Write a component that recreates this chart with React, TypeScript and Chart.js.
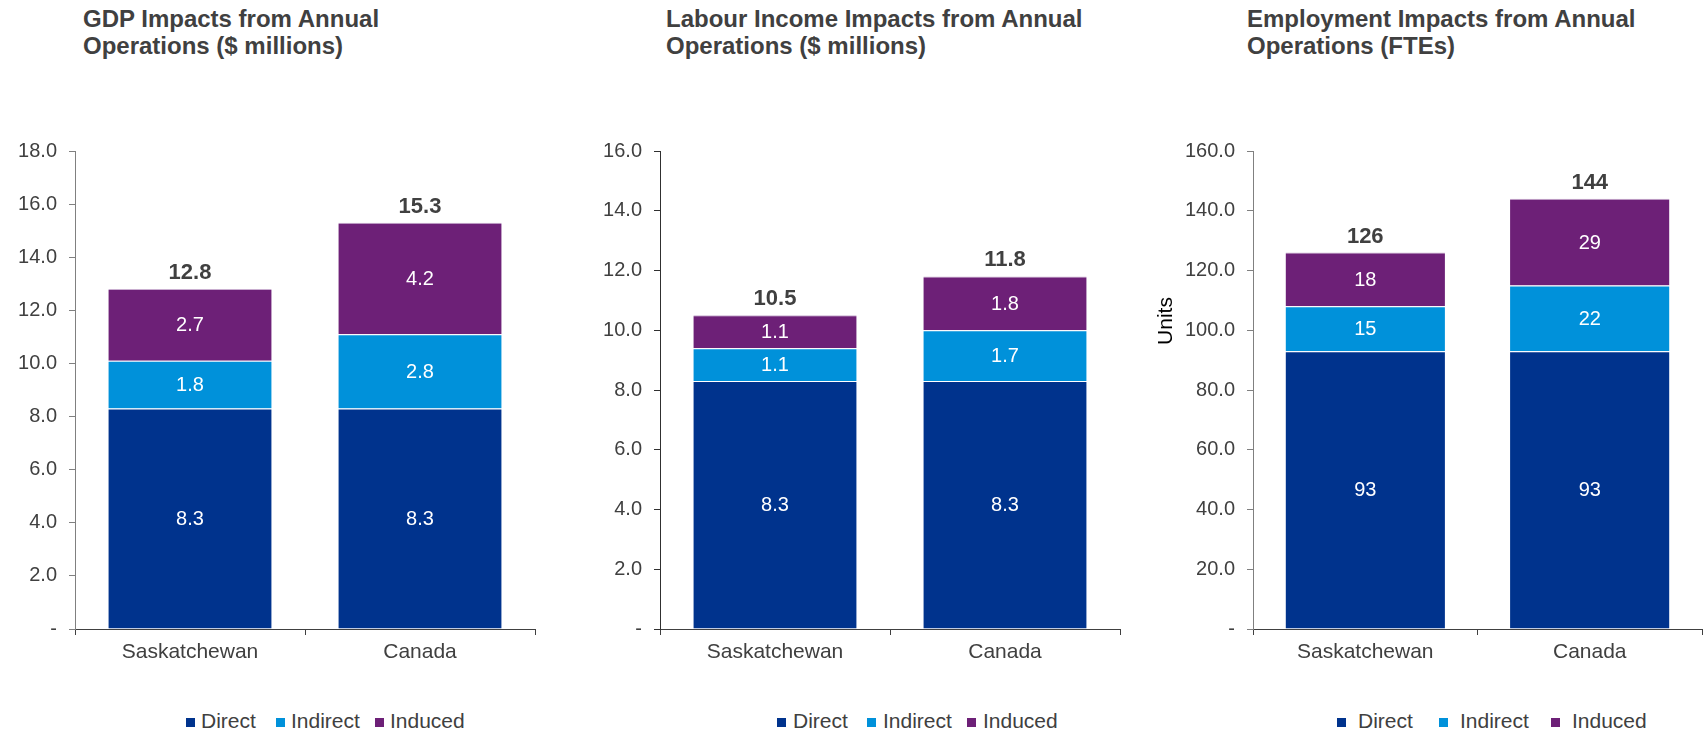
import React, { useEffect, useRef } from 'react';
import { Chart, registerables } from 'chart.js';

Chart.register(...registerables);

const FONT = '"Liberation Sans", Arial, Helvetica, sans-serif';
Chart.defaults.font.family = FONT;

// ---------- data ----------
const categories = ['Saskatchewan', 'Canada'];
const seriesNames = ['Direct', 'Indirect', 'Induced'];
const seriesColors = ['#00338D', '#0091DA', '#6D2077'];

const gdpDirect = [8.3, 8.3];
const gdpIndirect = [1.8, 2.8];
const gdpInduced = [2.7, 4.2];
const gdpTotals = [12.8, 15.3];

const labourDirect = [8.3, 8.3];
const labourIndirect = [1.1, 1.7];
const labourInduced = [1.1, 1.8];
const labourTotals = [10.5, 11.8];

const empDirect = [93, 93];
const empIndirect = [15, 22];
const empInduced = [18, 29];
const empTotals = [126, 144];

const gdpTitle = ['GDP Impacts from Annual', 'Operations ($ millions)'];
const labourTitle = ['Labour Income Impacts from Annual', 'Operations ($ millions)'];
const empTitle = ['Employment Impacts from Annual', 'Operations (FTEs)'];

const gdpAxisMax = 18;
const gdpAxisStep = 2;
const labourAxisMax = 16;
const labourAxisStep = 2;
const empAxisMax = 160;
const empAxisStep = 20;
const empAxisTitle = 'Units';

// ---------- layout ----------
const CANVAS_TOP = 100;
const CANVAS_H = 600;
const PLOT_TOP = 151;
const PLOT_BOTTOM = 629;

type PanelCfg = {
  left: number;
  width: number;
  axisX: number;
  plotRight: number;
  title: string[];
  titleX: number;
  series: number[][];
  totals: number[];
  max: number;
  step: number;
  decimals: number;
  axisColor: string;
  legendBoxes: number[];
  legendGap: number;
};

const panels: PanelCfg[] = [
  {
    left: 0, width: 560, axisX: 75, plotRight: 535,
    title: gdpTitle, titleX: 83,
    series: [gdpDirect, gdpIndirect, gdpInduced], totals: gdpTotals,
    max: gdpAxisMax, step: gdpAxisStep, decimals: 1, axisColor: '#808080',
    legendBoxes: [186, 276, 375], legendGap: 15,
  },
  {
    left: 580, width: 560, axisX: 660, plotRight: 1120,
    title: labourTitle, titleX: 666,
    series: [labourDirect, labourIndirect, labourInduced], totals: labourTotals,
    max: labourAxisMax, step: labourAxisStep, decimals: 1, axisColor: '#303030',
    legendBoxes: [777, 867, 967], legendGap: 16,
  },
  {
    left: 1140, width: 563, axisX: 1253, plotRight: 1702,
    title: empTitle, titleX: 1247,
    series: [empDirect, empIndirect, empInduced], totals: empTotals,
    max: empAxisMax, step: empAxisStep, decimals: 0, axisColor: '#808080',
    legendBoxes: [1337, 1439, 1551], legendGap: 21,
  },
];

const segLabels = {
  id: 'segLabels',
  afterDatasetsDraw(chart: any, _args: any, opts: any) {
    const ctx = chart.ctx;
    const decimals: number = opts.decimals;
    const totals: number[] = opts.totals;
    ctx.save();
    ctx.font = `20px ${FONT}`;
    ctx.fillStyle = '#ffffff';
    ctx.textAlign = 'center';
    ctx.textBaseline = 'middle';
    chart.data.datasets.forEach((ds: any, di: number) => {
      const meta = chart.getDatasetMeta(di);
      meta.data.forEach((bar: any, i: number) => {
        const p = bar.getProps(['x', 'y', 'base'], true);
        const v = ds.data[i] as number;
        ctx.fillText(v.toFixed(decimals), p.x, (p.y + p.base) / 2 + 1);
      });
    });
    ctx.font = `bold 22px ${FONT}`;
    ctx.fillStyle = '#404040';
    ctx.textBaseline = 'alphabetic';
    const yScale = chart.scales.y;
    const meta0 = chart.getDatasetMeta(0);
    totals.forEach((t, i) => {
      const x = meta0.data[i].x;
      ctx.fillText(t.toFixed(decimals), x, yScale.getPixelForValue(t) - 10);
    });
    ctx.restore();
  },
};

function ChartPanel({ cfg }: { cfg: PanelCfg }) {
  const ref = useRef<HTMLCanvasElement>(null);
  useEffect(() => {
    const yWidth = cfg.axisX - cfg.left;
    const padRight = cfg.left + cfg.width - cfg.plotRight;
    const chart = new Chart(ref.current as HTMLCanvasElement, {
      type: 'bar',
      data: {
        labels: categories,
        datasets: cfg.series.map((d, i) => ({
          label: seriesNames[i],
          data: d,
          backgroundColor: seriesColors[i],
          borderColor: i === 2 ? '#c9aed0' : '#ffffff',
          borderWidth: { top: 1, bottom: 0, left: 0, right: 0 },
          borderSkipped: false,
          categoryPercentage: 1,
          barPercentage: 0.71,
        })),
      },
      options: {
        animation: false,
        responsive: false,
        maintainAspectRatio: false,
        layout: { padding: { top: PLOT_TOP - CANVAS_TOP, right: padRight, left: 0, bottom: 0 } },
        plugins: {
          legend: { display: false },
          tooltip: { enabled: false },
          title: { display: false },
          segLabels: { decimals: cfg.decimals, totals: cfg.totals },
        } as any,
        scales: {
          x: {
            stacked: true,
            offset: true,
            grid: {
              display: true,
              drawOnChartArea: false,
              drawTicks: true,
              tickLength: 6,
              color: '#404040',
              offset: true,
            },
            border: { display: true, color: '#404040', width: 1 },
            ticks: { color: '#404040', font: { size: 21, family: FONT }, padding: 5, maxRotation: 0 },
            afterFit: (s: any) => { s.height = CANVAS_TOP + CANVAS_H - PLOT_BOTTOM; },
          },
          y: {
            stacked: true,
            min: 0,
            max: cfg.max,
            grid: {
              display: true,
              drawOnChartArea: false,
              drawTicks: true,
              tickLength: 6,
              color: cfg.axisColor,
            },
            border: { display: true, color: cfg.axisColor, width: 1 },
            ticks: {
              stepSize: cfg.step,
              color: '#404040',
              font: { size: 20, family: FONT },
              padding: 12,
              callback: (v: any) => (Number(v) === 0 ? '-' : Number(v).toFixed(1)),
            },
            afterFit: (s: any) => { s.width = yWidth; },
          },
        },
      },
      plugins: [segLabels],
    });
    return () => chart.destroy();
  }, [cfg]);
  return (
    <canvas
      ref={ref}
      width={cfg.width}
      height={CANVAS_H}
      style={{ position: 'absolute', left: cfg.left, top: CANVAS_TOP, width: cfg.width, height: CANVAS_H }}
    />
  );
}

export default function App() {
  return (
    <div
      style={{
        position: 'absolute',
        left: 0,
        top: 0,
        width: 1703,
        height: 732,
        overflow: 'hidden',
        background: '#ffffff',
        fontFamily: FONT,
      }}
    >
      {panels.map((p, pi) => (
        <React.Fragment key={pi}>
          <div
            style={{
              position: 'absolute',
              left: p.titleX,
              top: 5,
              fontSize: 24,
              lineHeight: '27px',
              fontWeight: 'bold',
              color: '#404040',
              whiteSpace: 'nowrap',
            }}
          >
            {p.title.map((t, i) => (
              <div key={i}>{t}</div>
            ))}
          </div>
          <ChartPanel cfg={p} />
          {seriesNames.map((n, i) => (
            <React.Fragment key={n}>
              <div
                style={{
                  position: 'absolute',
                  left: p.legendBoxes[i],
                  top: 718,
                  width: 9,
                  height: 9,
                  background: seriesColors[i],
                }}
              />
              <div
                style={{
                  position: 'absolute',
                  left: p.legendBoxes[i] + p.legendGap,
                  top: 710,
                  fontSize: 21,
                  lineHeight: '21px',
                  color: '#404040',
                  whiteSpace: 'nowrap',
                }}
              >
                {n}
              </div>
            </React.Fragment>
          ))}
        </React.Fragment>
      ))}
      <div
        style={{
          position: 'absolute',
          left: 1164.5 - 50,
          top: 321 - 12,
          width: 100,
          height: 24,
          lineHeight: '24px',
          fontSize: 21,
          textAlign: 'center',
          color: '#000000',
          transform: 'rotate(-90deg)',
        }}
      >
        {empAxisTitle}
      </div>
    </div>
  );
}
